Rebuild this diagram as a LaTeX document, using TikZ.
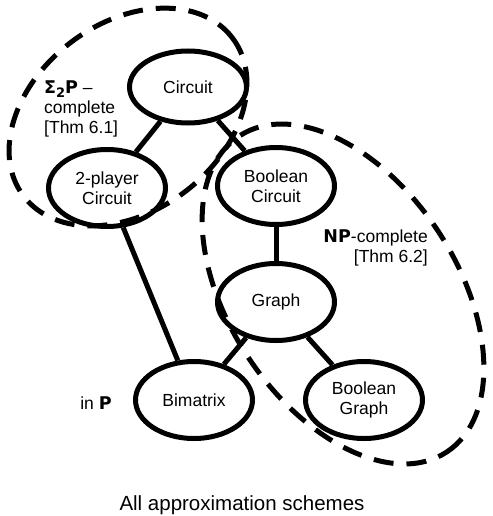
\documentclass[tikz,border=0pt]{standalone}
\usepackage{fontspec}
\setmainfont{Liberation Sans}
\newfontfamily\heavy{DejaVu Sans}
\usetikzlibrary{shapes.geometric}
\begin{document}
\begin{tikzpicture}[x=1pt,y=-1pt,
  graphnode/.style={draw, line width=5pt, ellipse, minimum width=117pt, minimum height=77pt, inner sep=0pt, align=center, font=\fontsize{17.5}{20}\selectfont},
  edgeline/.style={line width=5pt},
  region/.style={line width=5pt, dash pattern=on 20pt off 13pt},
  lbl/.style={inner sep=0pt, font=\fontsize{17.5}{20}\selectfont}]
\useasboundingbox (0,0) rectangle (492,516);
\node[graphnode, minimum height=72pt] (circ) at (188,87) {Circuit};
\node[graphnode] (tp) at (107,188) {2-player\\Circuit};
\node[graphnode] (bc) at (276,186) {Boolean\\Circuit};
\node[graphnode] (gr) at (276,302) {Graph};
\node[graphnode] (bm) at (194,400) {Bimatrix};
\node[graphnode] (bg) at (364,400) {Boolean\\Graph};
\draw[edgeline] (circ) -- (tp);
\draw[edgeline] (circ) -- (bc);
\draw[edgeline] (tp) -- (bm);
\draw[edgeline] (bc) -- (gr);
\draw[edgeline] (gr) -- (bm);
\draw[edgeline] (gr) -- (bg);
\draw[region, shift={(128,117)}, rotate=37] (0,0) ellipse [x radius=131pt, y radius=94pt];
\draw[region, shift={(343,294)}, rotate=-56.7] (0,0) ellipse [x radius=189pt, y radius=114pt];
\node[lbl, align=left, anchor=west] (sigma) at (44,109) {{\heavy\bfseries Σ\raisebox{-3.5pt}{\fontsize{13}{13}\selectfont 2}P} –\\complete\\{[Thm 6.1]}};
\node[lbl, align=right, anchor=east] (np) at (428,248) {{\heavy\bfseries NP}-complete\\{[Thm 6.2]}};
\node[lbl, anchor=center] (inp) at (96,403) {in {\heavy\bfseries P}};
\node[inner sep=0pt, font=\fontsize{20.5}{24}\selectfont] (all) at (242,505) {All approximation schemes};
\end{tikzpicture}
\end{document}
